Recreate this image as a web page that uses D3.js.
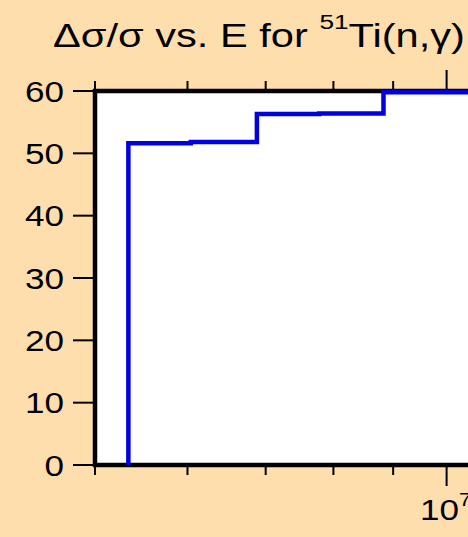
<!DOCTYPE html>
<html>
<head>
<meta charset="utf-8">
<script src="https://cdn.jsdelivr.net/npm/d3@7"></script>
<style>
html,body{margin:0;padding:0;background:#FFDEAD;overflow:hidden;}
svg{display:block;font-family:"Liberation Sans",Arial,Helvetica,sans-serif;}
</style>
</head>
<body>
<svg id="chart" width="468" height="537"></svg>
<script>
// Step data: bin lower edges (eV) and relative uncertainty (%)
const energies = [5.34e6, 5.34e6, 6.04e6, 6.88e6, 7.78e6, 8.83e6, 2.0e7];
const values   = [0, 51.6, 51.8, 56.3, 56.4, 59.8, 59.8];
const yTicks = [0, 10, 20, 30, 40, 50, 60];
const xMinorTicks = [5e6, 6e6, 7e6, 8e6, 9e6, 2e7];
const xMajorTicks = [1e7];
const titleMain = "Δσ/σ vs. E for ";
const titleSup = "51";
const titleEnd = "Ti(n,γ)";

const svg = d3.select("#chart");
const pL = 95, pT = 91, pB = 465;
const pR = 95 + 1168 * Math.log10(4); // plot extends beyond the window
const SX = 1.17; // horizontal stretch of the reference font

const x = d3.scaleLog().domain([5e6, 2e7]).range([pL, pR]);
const y = d3.scaleLinear().domain([0, 60]).range([pB, pT]);

// plot area
svg.append("rect").attr("x", pL).attr("y", pT)
  .attr("width", pR - pL).attr("height", pB - pT)
  .attr("fill", "#ffffff");

// ticks
const tickG = svg.append("g").attr("stroke", "#000").attr("stroke-width", 2);
yTicks.forEach(t => {
  tickG.append("line").attr("x1", pL - 22).attr("x2", pL + 2)
    .attr("y1", y(t)).attr("y2", y(t));
});
xMinorTicks.forEach(t => {
  tickG.append("line").attr("x1", x(t)).attr("x2", x(t)).attr("y1", pB).attr("y2", pB + 10);
  tickG.append("line").attr("x1", x(t)).attr("x2", x(t)).attr("y1", pT).attr("y2", pT - 10);
});
xMajorTicks.forEach(t => {
  tickG.append("line").attr("x1", x(t)).attr("x2", x(t)).attr("y1", pB).attr("y2", pB + 21);
  tickG.append("line").attr("x1", x(t)).attr("x2", x(t)).attr("y1", pT).attr("y2", pT - 21);
});

// frame
svg.append("rect").attr("x", pL).attr("y", pT)
  .attr("width", pR - pL).attr("height", pB - pT)
  .attr("fill", "none").attr("stroke", "#000").attr("stroke-width", 4.5);

// y labels
svg.append("g").selectAll("text").data(yTicks).join("text")
  .attr("transform", d => `translate(64,${y(d)}) scale(${SX},1)`)
  .attr("dy", "0.36em")
  .attr("text-anchor", "end").attr("font-size", 30).attr("fill", "#000")
  .text(d => d);

// x labels
xMajorTicks.forEach(t => {
  const e = Math.round(Math.log10(t));
  const tx = svg.append("text").attr("transform", `translate(${x(t) - 1},520) scale(${SX},1)`)
    .attr("text-anchor", "middle").attr("font-size", 30).attr("fill", "#000");
  tx.append("tspan").text("10");
  tx.append("tspan").attr("font-size", 19).attr("dy", -14).text(e);
});

// step line
const pts = energies.map((e, i) => [e, values[i]]);
const line = d3.line().x(d => x(d[0])).y(d => y(d[1])).curve(d3.curveStepAfter);
svg.append("path").attr("d", line(pts)).attr("fill", "none")
  .attr("stroke", "#0000e0").attr("stroke-width", 4.5);

// title
const title = svg.append("text").attr("font-size", 32.5).attr("fill", "#000");
title.append("tspan").text(titleMain);
title.append("tspan").attr("font-size", 20.5).attr("dy", -18).text(titleSup);
title.append("tspan").attr("dy", 18).text(titleEnd);
const tw = title.node().getComputedTextLength();
title.attr("transform", `translate(53,47) scale(${412 / tw},1)`);
</script>
</body>
</html>
